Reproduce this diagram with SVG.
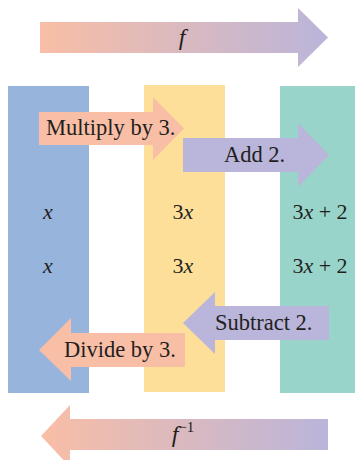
<svg xmlns="http://www.w3.org/2000/svg" width="355" height="460" viewBox="0 0 355 460">
<defs>
<linearGradient id="gf" x1="40" y1="0" x2="328" y2="0" gradientUnits="userSpaceOnUse">
<stop offset="0" stop-color="#f9bea6"/><stop offset="1" stop-color="#bab5da"/>
</linearGradient>
<linearGradient id="gi" x1="41" y1="0" x2="328" y2="0" gradientUnits="userSpaceOnUse">
<stop offset="0" stop-color="#f9bea6"/><stop offset="1" stop-color="#bab5da"/>
</linearGradient>
</defs>
<rect width="355" height="460" fill="#ffffff"/>
<g id="columns">
<rect id="col-x" x="8" y="86" width="81" height="307" fill="#97b4dd"/>
<rect id="col-3x" x="144" y="85" width="81" height="307" fill="#fddf9a"/>
<rect id="col-3x2" x="280" y="86" width="75" height="307" fill="#98d4ca"/>
</g>
<g id="connectors" font-family="Liberation Serif, Times New Roman, serif" font-size="22.5">
<g id="arrow-f">
<path d="M40,22 H298 V8 L328,37.5 L298,67 V53 H40 Z" fill="url(#gf)"/>
<text x="182" y="45" font-size="24" font-style="italic" text-anchor="middle" fill="#231f20">f</text>
</g>
<g id="arrow-multiply">
<path fill="#f9bea6" d="M39,112 H153 V97 L184,128.5 L153,160 V145 H39 Z"/>
<text x="46" y="135" fill="#231f20">Multiply by 3.</text>
</g>
<g id="arrow-add">
<path fill="#bab5da" d="M183,138 H298 V123 L329,155 L298,187 V172 H183 Z"/>
<text x="224" y="162" fill="#231f20">Add 2.</text>
</g>
<g id="arrow-subtract">
<path fill="#bab5da" d="M329,306 H215 V292 L183,323 L215,354 V340 H329 Z"/>
<text x="215" y="330" fill="#231f20">Subtract 2.</text>
</g>
<g id="arrow-divide">
<path fill="#f9bea6" d="M185,333 H71 V318 L39,350 L71,381 V367 H185 Z"/>
<text x="64" y="357" fill="#231f20">Divide by 3.</text>
</g>
<g id="arrow-finv">
<path d="M328,419 H70 V405 L41,436 L70,467 V450 H328 Z" fill="url(#gi)"/>
<text x="183" y="442" font-size="24" text-anchor="middle" fill="#231f20"><tspan font-style="italic">f</tspan><tspan dy="-10" font-size="15">−1</tspan></text>
</g>
</g>
<g id="values" font-family="Liberation Serif, Times New Roman, serif" font-size="22" text-anchor="middle" fill="#231f20">
<text x="48" y="219" font-style="italic">x</text>
<text x="183" y="219">3<tspan font-style="italic">x</tspan></text>
<text x="320" y="219">3<tspan font-style="italic">x</tspan> + 2</text>
<text x="48" y="273" font-style="italic">x</text>
<text x="183" y="273">3<tspan font-style="italic">x</tspan></text>
<text x="320" y="273">3<tspan font-style="italic">x</tspan> + 2</text>
</g>
</svg>
